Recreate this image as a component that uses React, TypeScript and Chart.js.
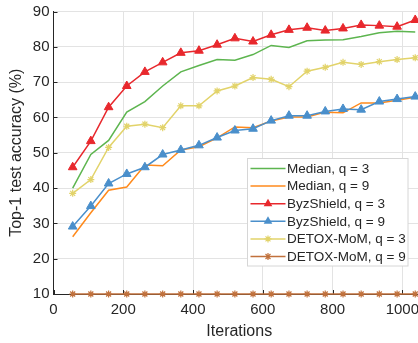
import React, { useEffect, useRef } from 'react';
import { Chart, registerables } from 'chart.js';

Chart.register(...registerables);

const iterations = [55, 107, 158, 210, 262, 313, 365, 417, 469, 520, 572, 624, 675, 727, 779, 830, 882, 934, 985, 1037];
const medianQ3 = [40.0, 49.5, 53.5, 61.5, 64.5, 68.9, 72.9, 74.7, 76.4, 76.2, 77.8, 80.4, 79.8, 81.7, 81.9, 82.0, 82.9, 84.0, 84.4, 84.2];
const medianQ9 = [26.2, 33.0, 39.4, 40.3, 46.5, 46.3, 50.8, 51.7, 54.2, 57.3, 57.1, 59.0, 60.1, 60.1, 61.5, 61.3, 64.1, 64.1, 64.9, 65.7];
const byzShieldQ3 = [45.9, 53.3, 62.9, 68.9, 72.9, 75.6, 78.3, 78.9, 80.6, 82.4, 81.5, 83.4, 84.8, 85.4, 84.6, 85.2, 86.2, 86.0, 85.7, 87.6];
const byzShieldQ9 = [29.1, 34.9, 41.3, 44.0, 45.9, 49.5, 50.8, 52.1, 54.3, 56.3, 56.8, 59.1, 60.5, 60.5, 61.7, 62.4, 62.2, 64.5, 65.2, 65.9];
const detoxQ3 = [38.5, 42.4, 51.5, 57.5, 58.1, 57.1, 63.3, 63.3, 67.5, 68.9, 71.3, 70.8, 68.7, 73.1, 74.2, 75.6, 75.0, 75.8, 76.4, 76.9];
const detoxQ9 = [10, 10, 10, 10, 10, 10, 10, 10, 10, 10, 10, 10, 10, 10, 10, 10, 10, 10, 10, 10];

const seriesLabels = ['Median, q = 3', 'Median, q = 9', 'ByzShield, q = 3', 'ByzShield, q = 9', 'DETOX-MoM, q = 3', 'DETOX-MoM, q = 9'];
const xTickValues = [0, 200, 400, 600, 800, 1000];
const yTickValues = [10, 20, 30, 40, 50, 60, 70, 80, 90];

const TEXT = '#262626';
const FONT = '"Liberation Sans", Arial, Helvetica, sans-serif';

const seriesStyle = [
  { color: '#5DB54F', marker: 'none' },
  { color: '#FF8A1C', marker: 'none' },
  { color: '#E8282D', marker: 'triangle' },
  { color: '#4A8FCB', marker: 'triangle' },
  { color: '#E2D36A', marker: 'star' },
  { color: '#C1713C', marker: 'star' },
];

function drawMarker(ctx: CanvasRenderingContext2D, kind: string, x: number, y: number, color: string) {
  ctx.save();
  ctx.fillStyle = color;
  ctx.strokeStyle = color;
  if (kind === 'triangle') {
    const r = 5;
    ctx.beginPath();
    ctx.moveTo(x, y - r);
    ctx.lineTo(x + r * Math.sin((2 * Math.PI) / 3), y - r * Math.cos((2 * Math.PI) / 3));
    ctx.lineTo(x + r * Math.sin((4 * Math.PI) / 3), y - r * Math.cos((4 * Math.PI) / 3));
    ctx.closePath();
    ctx.fill();
  } else if (kind === 'star') {
    const r = 3.5;
    ctx.lineWidth = 1.2;
    ctx.beginPath();
    for (let i = 0; i < 4; i++) {
      const a = (i * Math.PI) / 4;
      ctx.moveTo(x - r * Math.cos(a), y - r * Math.sin(a));
      ctx.lineTo(x + r * Math.cos(a), y + r * Math.sin(a));
    }
    ctx.stroke();
  }
  ctx.restore();
}

const legendPlugin = {
  id: 'boxLegend',
  afterDatasetsDraw(chart: any) {
    const ctx: CanvasRenderingContext2D = chart.ctx;
    const left = 247.5;
    const top = 158.5;
    const w = 160.5;
    const h = 107.5;
    ctx.save();
    ctx.fillStyle = '#ffffff';
    ctx.fillRect(left, top, w, h);
    ctx.strokeStyle = '#d6d6d6';
    ctx.lineWidth = 1;
    ctx.strokeRect(left, top, w, h);
    ctx.font = `13.5px ${FONT}`;
    ctx.textBaseline = 'middle';
    ctx.textAlign = 'left';
    seriesLabels.forEach((label, i) => {
      const y = top + 10 + i * 17.6;
      const st = seriesStyle[i];
      ctx.strokeStyle = st.color;
      ctx.lineWidth = 1.5;
      ctx.beginPath();
      ctx.moveTo(left + 3, y);
      ctx.lineTo(left + 38, y);
      ctx.stroke();
      drawMarker(ctx, st.marker, left + 20.5, y, st.color);
      ctx.fillStyle = TEXT;
      ctx.fillText(label, left + 39.5, y + 0.5);
    });
    ctx.restore();
  },
};

const inwardTicksPlugin = {
  id: 'inwardTicks',
  beforeDatasetsDraw(chart: any) {
    const ctx: CanvasRenderingContext2D = chart.ctx;
    const xs = chart.scales.x;
    const ys = chart.scales.y;
    const area = chart.chartArea;
    ctx.save();
    ctx.strokeStyle = TEXT;
    ctx.lineWidth = 1;
    ctx.beginPath();
    xTickValues.forEach((v) => {
      const px = Math.round(xs.getPixelForValue(v)) + 0.5;
      ctx.moveTo(px, area.bottom);
      ctx.lineTo(px, area.bottom - 4);
    });
    yTickValues.forEach((v) => {
      const py = Math.round(ys.getPixelForValue(v)) + 0.5;
      ctx.moveTo(area.left, py);
      ctx.lineTo(area.left + 4, py);
    });
    ctx.stroke();
    ctx.restore();
  },
};

export default function App() {
  const ref = useRef<HTMLCanvasElement>(null);

  useEffect(() => {
    const all = [medianQ3, medianQ9, byzShieldQ3, byzShieldQ9, detoxQ3, detoxQ9];
    const datasets = all.map((vals, i) => {
      const st = seriesStyle[i];
      const hasMarker = st.marker !== 'none';
      return {
        label: seriesLabels[i],
        data: vals.map((v, j) => ({ x: iterations[j], y: v })),
        borderColor: st.color,
        backgroundColor: st.color,
        borderWidth: 1.5,
        pointStyle: st.marker === 'none' ? 'circle' : st.marker,
        pointRadius: hasMarker ? (st.marker === 'triangle' ? 5 : 3.5) : 0,
        pointBorderWidth: st.marker === 'star' ? 1.2 : 1,
        pointBackgroundColor: st.color,
        pointBorderColor: st.color,
        tension: 0,
        clip: false as const,
        order: 6 - i,
      };
    });

    const chart = new Chart(ref.current as HTMLCanvasElement, {
      type: 'line',
      data: { datasets: datasets as any },
      options: {
        responsive: false,
        animation: false,
        devicePixelRatio: 1,
        layout: { padding: { top: 8, left: 0, right: 15, bottom: 0 } },
        plugins: {
          legend: { display: false },
          tooltip: { enabled: false },
        },
        scales: {
          x: {
            type: 'linear',
            min: 0,
            max: 1065,
            afterBuildTicks: (s: any) => {
              s.ticks = xTickValues.map((v) => ({ value: v }));
            },
            afterFit: (s: any) => {
              s.height = 49;
            },
            grid: { color: '#e3e3e3', drawTicks: false, lineWidth: 1 },
            border: { display: true, color: TEXT, width: 1 },
            ticks: {
              color: TEXT,
              font: { family: FONT, size: 15, lineHeight: 1 },
              padding: 8,
              maxRotation: 0,
              autoSkip: false,
              callback: (v: any) => String(v),
            },
            title: {
              display: true,
              text: 'Iterations',
              color: TEXT,
              font: { family: FONT, size: 16 },
              padding: { top: 0, bottom: 2 },
            },
          },
          y: {
            type: 'linear',
            min: 10,
            max: 90,
            afterBuildTicks: (s: any) => {
              s.ticks = yTickValues.map((v) => ({ value: v }));
            },
            afterFit: (s: any) => {
              s.width = 53.5;
            },
            grid: { color: '#e3e3e3', drawTicks: false, lineWidth: 1 },
            border: { display: true, color: TEXT, width: 1 },
            ticks: {
              color: TEXT,
              font: { family: FONT, size: 15, lineHeight: 1 },
              padding: 4,
              callback: (v: any) => String(v),
            },
            title: {
              display: true,
              text: 'Top-1 test accuracy (%)',
              color: TEXT,
              font: { family: FONT, size: 16 },
              padding: { top: 7, bottom: 0 },
            },
          },
        },
      },
      plugins: [inwardTicksPlugin, legendPlugin],
    });
    return () => chart.destroy();
  }, []);

  return (
    <div style={{ position: 'fixed', left: 0, top: 0, width: 418, height: 343, overflow: 'hidden', background: '#ffffff' }}>
      <canvas ref={ref} width={440} height={343} style={{ display: 'block', width: 440, height: 343 }} />
    </div>
  );
}
